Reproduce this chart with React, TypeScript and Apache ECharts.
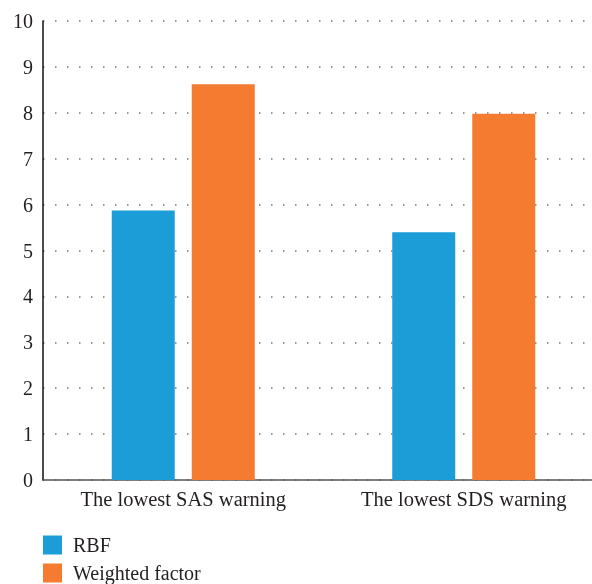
import React, { useEffect, useRef } from "react";
import * as echarts from "echarts";

const categories = ["The lowest SAS warning", "The lowest SDS warning"];
const rbfValues = [5.87, 5.4];
const weightedValues = [8.62, 7.98];
const seriesNames = ["RBF", "Weighted factor"];

export default function App() {
  const ref = useRef<HTMLDivElement>(null);
  useEffect(() => {
    if (!ref.current) return;
    const chart = echarts.init(ref.current, undefined, { renderer: "svg" });
    const font = "Liberation Serif";
    chart.setOption({
      animation: false,
      textStyle: { fontFamily: font },
      grid: { left: 43, right: 0, top: 21, bottom: 120, containLabel: false },
      legend: {
        orient: "vertical",
        left: 43,
        top: 535,
        itemWidth: 19,
        itemHeight: 19,
        itemGap: 8,
        icon: "rect",
        padding: 0,
        textStyle: {
          fontFamily: font,
          fontSize: 20,
          lineHeight: 19,
          color: "#231f20",
          padding: [0, 0, 0, 6],
        },
        data: seriesNames,
      },
      xAxis: {
        type: "category",
        data: categories,
        axisLine: { lineStyle: { color: "#555", width: 1.5 } },
        axisTick: { show: false },
        axisLabel: { fontFamily: font, fontSize: 20.5, color: "#231f20", margin: 8 },
      },
      yAxis: {
        type: "value",
        min: 0,
        max: 10,
        interval: 1,
        axisLine: { show: true, lineStyle: { color: "#111", width: 1.5 } },
        axisTick: { show: false },
        axisLabel: { fontFamily: font, fontSize: 20, color: "#231f20", margin: 10 },
        splitLine: { lineStyle: { color: "#777", type: [1.5, 10.5], width: 1.5 } },
      },
      series: [
        {
          name: seriesNames[0],
          type: "bar",
          data: rbfValues,
          itemStyle: { color: "#1c9dd8" },
          barWidth: 63,
          barGap: "27%",
        },
        {
          name: seriesNames[1],
          type: "bar",
          data: weightedValues,
          itemStyle: { color: "#f47b30" },
          barWidth: 63,
          barGap: "27%",
        },
      ],
    });
    return () => chart.dispose();
  }, []);
  return (
    <div style={{ position: "fixed", left: 0, top: 0, width: 592, height: 584, overflow: "hidden" }}>
      <div ref={ref} style={{ width: 604, height: 600 }} />
    </div>
  );
}
